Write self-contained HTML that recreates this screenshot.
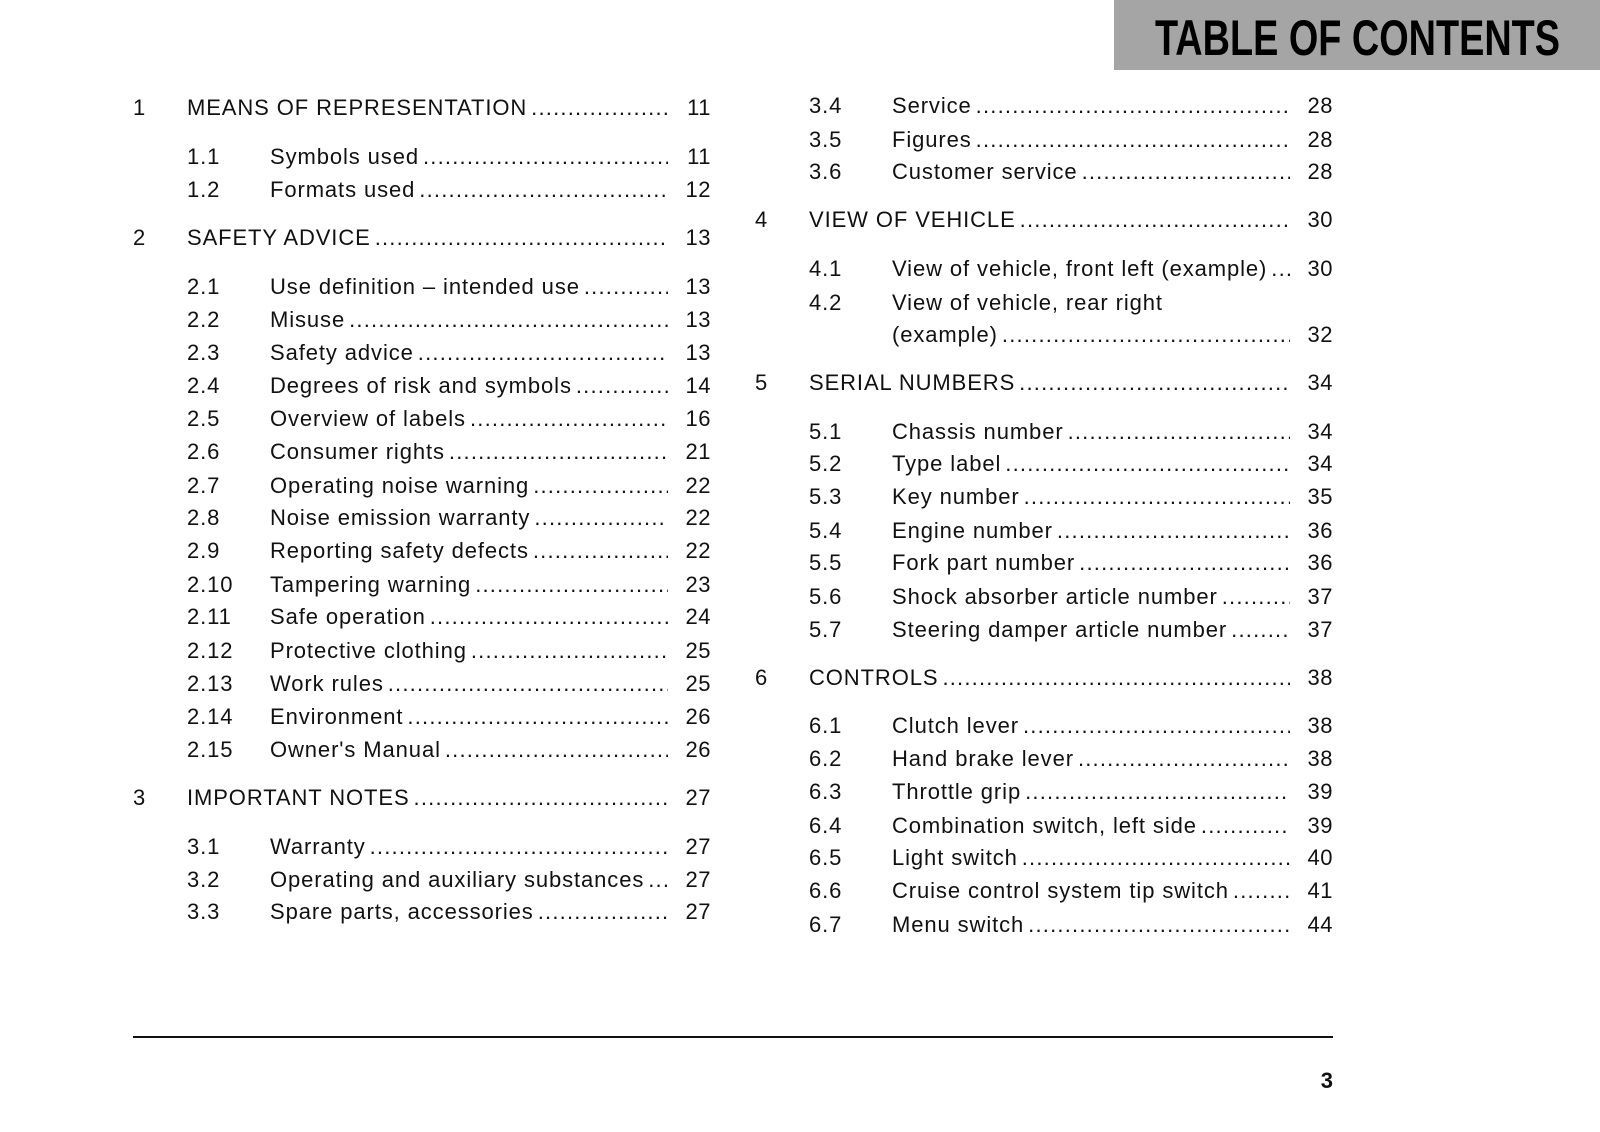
<!DOCTYPE html>
<html><head><meta charset="utf-8"><style>
body{margin:0;width:1600px;height:1132px;background:#fff;position:relative;overflow:hidden;font-family:"Liberation Sans",sans-serif;color:#111}
.hd{position:absolute;left:1114px;top:0;width:486px;height:70px;background:#a5a5a5}
.r{position:absolute;width:578px;height:26px;line-height:26px;font-size:22px;letter-spacing:0.9px;display:flex;white-space:nowrap}
.L{left:133px}.R{left:755px}
.n{flex:none}
.l1 .n{width:54px}
.l2{padding-left:54px;width:524px}
.l2 .n{width:83px}
.d{flex:1;overflow:hidden;margin-left:4px;letter-spacing:0}
.d::before{content:"........................................................................................................................................................";letter-spacing:1.2px}
.p{flex:none;width:43px;text-align:right;letter-spacing:0.5px}
.rule{position:absolute;left:133px;top:1036px;width:1200px;height:2px;background:#111}
.pg{position:absolute;left:1300px;width:33px;top:1068px;text-align:right;font-weight:bold;font-size:22px}
</style></head><body>
<div class="hd"></div>
<svg style="position:absolute;left:0;top:0" width="1600" height="80"><text x="1155" y="55" font-family="Liberation Sans" font-weight="bold" font-size="50" textLength="405" lengthAdjust="spacingAndGlyphs" fill="#000">TABLE OF CONTENTS</text></svg>

<div class="r L l1" style="top:95px"><span class="n">1</span><span>MEANS OF REPRESENTATION</span><span class="d"></span><span class="p">11</span></div>
<div class="r L l2" style="top:144px"><span class="n">1.1</span><span>Symbols used</span><span class="d"></span><span class="p">11</span></div>
<div class="r L l2" style="top:177px"><span class="n">1.2</span><span>Formats used</span><span class="d"></span><span class="p">12</span></div>
<div class="r L l1" style="top:225px"><span class="n">2</span><span>SAFETY ADVICE</span><span class="d"></span><span class="p">13</span></div>
<div class="r L l2" style="top:274px"><span class="n">2.1</span><span>Use definition – intended use</span><span class="d"></span><span class="p">13</span></div>
<div class="r L l2" style="top:307px"><span class="n">2.2</span><span>Misuse</span><span class="d"></span><span class="p">13</span></div>
<div class="r L l2" style="top:340px"><span class="n">2.3</span><span>Safety advice</span><span class="d"></span><span class="p">13</span></div>
<div class="r L l2" style="top:373px"><span class="n">2.4</span><span>Degrees of risk and symbols</span><span class="d"></span><span class="p">14</span></div>
<div class="r L l2" style="top:406px"><span class="n">2.5</span><span>Overview of labels</span><span class="d"></span><span class="p">16</span></div>
<div class="r L l2" style="top:439px"><span class="n">2.6</span><span>Consumer rights</span><span class="d"></span><span class="p">21</span></div>
<div class="r L l2" style="top:473px"><span class="n">2.7</span><span>Operating noise warning</span><span class="d"></span><span class="p">22</span></div>
<div class="r L l2" style="top:505px"><span class="n">2.8</span><span>Noise emission warranty</span><span class="d"></span><span class="p">22</span></div>
<div class="r L l2" style="top:538px"><span class="n">2.9</span><span>Reporting safety defects</span><span class="d"></span><span class="p">22</span></div>
<div class="r L l2" style="top:572px"><span class="n">2.10</span><span>Tampering warning</span><span class="d"></span><span class="p">23</span></div>
<div class="r L l2" style="top:604px"><span class="n">2.11</span><span>Safe operation</span><span class="d"></span><span class="p">24</span></div>
<div class="r L l2" style="top:638px"><span class="n">2.12</span><span>Protective clothing</span><span class="d"></span><span class="p">25</span></div>
<div class="r L l2" style="top:671px"><span class="n">2.13</span><span>Work rules</span><span class="d"></span><span class="p">25</span></div>
<div class="r L l2" style="top:704px"><span class="n">2.14</span><span>Environment</span><span class="d"></span><span class="p">26</span></div>
<div class="r L l2" style="top:737px"><span class="n">2.15</span><span>Owner's Manual</span><span class="d"></span><span class="p">26</span></div>
<div class="r L l1" style="top:785px"><span class="n">3</span><span>IMPORTANT NOTES</span><span class="d"></span><span class="p">27</span></div>
<div class="r L l2" style="top:834px"><span class="n">3.1</span><span>Warranty</span><span class="d"></span><span class="p">27</span></div>
<div class="r L l2" style="top:867px"><span class="n">3.2</span><span>Operating and auxiliary substances</span><span class="d"></span><span class="p">27</span></div>
<div class="r L l2" style="top:899px"><span class="n">3.3</span><span>Spare parts, accessories</span><span class="d"></span><span class="p">27</span></div>

<div class="r R l2" style="top:93px"><span class="n">3.4</span><span>Service</span><span class="d"></span><span class="p">28</span></div>
<div class="r R l2" style="top:127px"><span class="n">3.5</span><span>Figures</span><span class="d"></span><span class="p">28</span></div>
<div class="r R l2" style="top:159px"><span class="n">3.6</span><span>Customer service</span><span class="d"></span><span class="p">28</span></div>
<div class="r R l1" style="top:207px"><span class="n">4</span><span>VIEW OF VEHICLE</span><span class="d"></span><span class="p">30</span></div>
<div class="r R l2" style="top:256px"><span class="n">4.1</span><span>View of vehicle, front left (example)</span><span class="d"></span><span class="p">30</span></div>
<div class="r R l2" style="top:290px"><span class="n">4.2</span><span>View of vehicle, rear right</span></div>
<div class="r R l2" style="top:322px"><span class="n"></span><span>(example)</span><span class="d"></span><span class="p">32</span></div>
<div class="r R l1" style="top:370px"><span class="n">5</span><span>SERIAL NUMBERS</span><span class="d"></span><span class="p">34</span></div>
<div class="r R l2" style="top:419px"><span class="n">5.1</span><span>Chassis number</span><span class="d"></span><span class="p">34</span></div>
<div class="r R l2" style="top:451px"><span class="n">5.2</span><span>Type label</span><span class="d"></span><span class="p">34</span></div>
<div class="r R l2" style="top:484px"><span class="n">5.3</span><span>Key number</span><span class="d"></span><span class="p">35</span></div>
<div class="r R l2" style="top:518px"><span class="n">5.4</span><span>Engine number</span><span class="d"></span><span class="p">36</span></div>
<div class="r R l2" style="top:550px"><span class="n">5.5</span><span>Fork part number</span><span class="d"></span><span class="p">36</span></div>
<div class="r R l2" style="top:584px"><span class="n">5.6</span><span>Shock absorber article number</span><span class="d"></span><span class="p">37</span></div>
<div class="r R l2" style="top:617px"><span class="n">5.7</span><span>Steering damper article number</span><span class="d"></span><span class="p">37</span></div>
<div class="r R l1" style="top:665px"><span class="n">6</span><span>CONTROLS</span><span class="d"></span><span class="p">38</span></div>
<div class="r R l2" style="top:713px"><span class="n">6.1</span><span>Clutch lever</span><span class="d"></span><span class="p">38</span></div>
<div class="r R l2" style="top:746px"><span class="n">6.2</span><span>Hand brake lever</span><span class="d"></span><span class="p">38</span></div>
<div class="r R l2" style="top:779px"><span class="n">6.3</span><span>Throttle grip</span><span class="d"></span><span class="p">39</span></div>
<div class="r R l2" style="top:813px"><span class="n">6.4</span><span>Combination switch, left side</span><span class="d"></span><span class="p">39</span></div>
<div class="r R l2" style="top:845px"><span class="n">6.5</span><span>Light switch</span><span class="d"></span><span class="p">40</span></div>
<div class="r R l2" style="top:878px"><span class="n">6.6</span><span>Cruise control system tip switch</span><span class="d"></span><span class="p">41</span></div>
<div class="r R l2" style="top:912px"><span class="n">6.7</span><span>Menu switch</span><span class="d"></span><span class="p">44</span></div>

<div class="rule"></div>
<div class="pg">3</div>
</body></html>
